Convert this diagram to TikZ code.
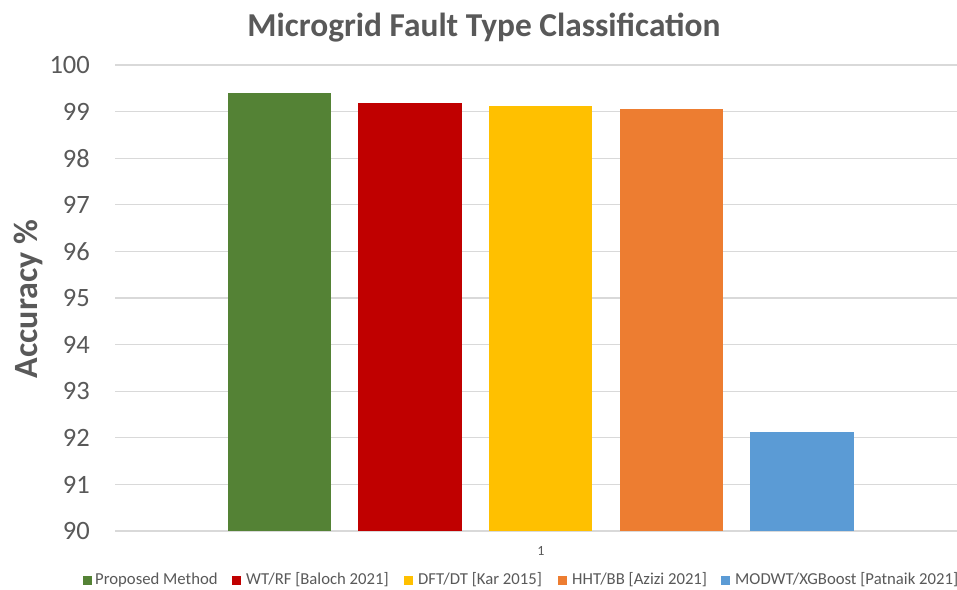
\documentclass[tikz,border=0pt]{standalone}
\usepackage{fontspec}
\setmainfont{Carlito}
\definecolor{txtgray}{HTML}{595959}
\definecolor{gridgray}{HTML}{D9D9D9}
\definecolor{cgreen}{HTML}{548235}
\definecolor{cred}{HTML}{C00000}
\definecolor{cyellow}{HTML}{FFC000}
\definecolor{corange}{HTML}{ED7D31}
\definecolor{cblue}{HTML}{5B9BD5}
\begin{document}
\begin{tikzpicture}[x=1pt,y=-1pt,
  grid/.style={draw=gridgray,line width=1.3pt},
  ticklbl/.style={text=txtgray,anchor=east,inner sep=0pt,font=\fontsize{26.5}{31}\selectfont},
  leglbl/.style={text=txtgray,anchor=west,inner sep=0pt,font=\fontsize{16.7}{20}\selectfont},
  legbox/.style={minimum size=9pt,inner sep=0pt,anchor=west}]
\useasboundingbox[fill=white] (0,0) rectangle (957,589);
\clip (0,0) rectangle (957,589);
% title
\node[text=txtgray,font=\fontsize{33.4}{40}\selectfont\bfseries,anchor=base,inner sep=0pt] (title) at (484,36) {Microgrid Fault Type Classification};
% axis label
\node[text=txtgray,font=\fontsize{34}{40}\selectfont\bfseries,rotate=90,anchor=base,inner sep=0pt] (ylab) at (37,299) {Accuracy \%};
% gridlines and ticks
\foreach \v in {90,...,100}{
  \pgfmathsetmacro{\yy}{531-(\v-90)*46.6}
  \draw[grid] (115,\yy) -- (957,\yy);
  \node[ticklbl] (t\v) at (90,\yy) {\v};
}
% bars
\fill[cgreen]  (228,531) rectangle (331,{531-9.40*46.6});
\fill[cred]    (358,531) rectangle (462,{531-9.19*46.6});
\fill[cyellow] (489,531) rectangle (592,{531-9.12*46.6});
\fill[corange] (620,531) rectangle (723,{531-9.06*46.6});
\fill[cblue]   (750,531) rectangle (854,{531-2.12*46.6});
% category label
\node[text=txtgray,font=\fontsize{14}{17}\selectfont] (cat) at (541,551) {1};
% legend
\node[legbox,fill=cgreen] (k1) at (83,580) {};
\node[leglbl] (l1) at (95,580) {Proposed Method};
\node[legbox,fill=cred] (k2) at (232,580) {};
\node[leglbl] (l2) at (246,580) {WT/RF [Baloch 2021]};
\node[legbox,fill=cyellow] (k3) at (404,580) {};
\node[leglbl] (l3) at (418,580) {DFT/DT [Kar 2015]};
\node[legbox,fill=corange] (k4) at (558,580) {};
\node[leglbl] (l4) at (572,580) {HHT/BB [Azizi 2021]};
\node[legbox,fill=cblue] (k5) at (721,580) {};
\node[leglbl] (l5) at (735,580) {MODWT/XGBoost [Patnaik 2021]};
\end{tikzpicture}
\end{document}
